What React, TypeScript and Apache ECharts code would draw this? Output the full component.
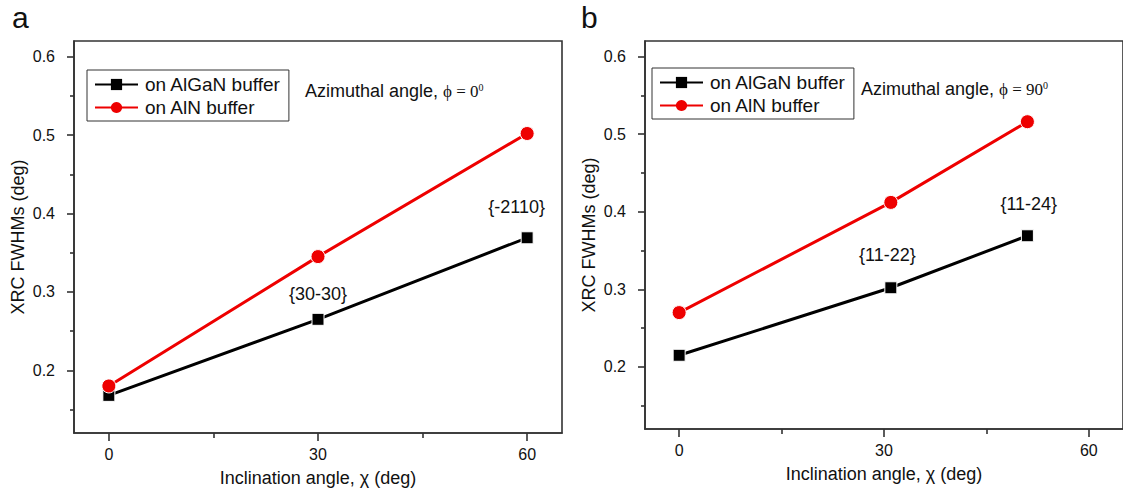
import React, { useEffect, useRef } from "react";
import * as echarts from "echarts";

// ---------- data ----------
const seriesNames = ["on AlGaN buffer", "on AlN buffer"];

const xTicks = [0, 30, 60];
const xMinorTicks = [15, 45];
const yTicks = [0.2, 0.3, 0.4, 0.5, 0.6];
const yMinorTicks = [0.15, 0.25, 0.35, 0.45, 0.55];

// panel a (phi = 0)
const chiA = [0, 30, 60];
const algaNA = [0.168, 0.265, 0.369];
const alnA = [0.18, 0.345, 0.502];
const planesA = ["{30-30}", "{-2110}"];

// panel b (phi = 90)
const chiB = [0, 31, 51];
const algaNB = [0.215, 0.302, 0.369];
const alnB = [0.27, 0.412, 0.516];
const planesB = ["{11-22}", "{11-24}"];

const panelLabels = ["a", "b"];
const phiValues = ["0", "90"];

// ---------- layout / style ----------
const planeAnchorsA = [
  [30, 0.297],
  [58.5, 0.408],
];
const planeAnchorsB = [
  [30.5, 0.344],
  [51.2, 0.41],
];

const SANS = '"Liberation Sans", Arial, Helvetica, sans-serif';
const SERIF = '"Liberation Serif", "Times New Roman", serif';
const AXIS = "#333";
const TEXT = "#111";
const RED = "#ee0000";
const BLACK = "#000";

const grids = [
  { left: 74, top: 41, width: 488, height: 392 },
  { left: 645, top: 41, width: 481, height: 388 },
];

function majorX(gridIndex: number) {
  return {
    type: "value",
    gridIndex,
    min: -5,
    max: 65,
    position: "bottom",
    axisLine: { show: true, onZero: false, lineStyle: { color: AXIS, width: 1.6 } },
    axisTick: {
      show: true,
      inside: false,
      length: 8,
      customValues: xTicks,
      lineStyle: { color: AXIS, width: 1.6 },
    },
    axisLabel: {
      show: true,
      customValues: xTicks,
      margin: 13,
      fontSize: 16,
      fontFamily: SANS,
      color: TEXT,
    },
    splitLine: { show: false },
    name: "Inclination angle, \u03c7 (deg)",
    nameLocation: "middle",
    nameGap: 36,
    nameTextStyle: { fontSize: 18, fontFamily: SANS, color: TEXT },
  };
}

function minorX(gridIndex: number) {
  return {
    type: "value",
    gridIndex,
    min: -5,
    max: 65,
    position: "bottom",
    axisLine: { show: false, onZero: false },
    axisTick: {
      show: true,
      inside: false,
      length: 5,
      customValues: xMinorTicks,
      lineStyle: { color: AXIS, width: 1.6 },
    },
    axisLabel: { show: false },
    splitLine: { show: false },
  };
}

function majorY(gridIndex: number) {
  return {
    type: "value",
    gridIndex,
    min: 0.12,
    max: 0.62,
    position: "left",
    axisLine: { show: true, onZero: false, lineStyle: { color: AXIS, width: 1.6 } },
    axisTick: {
      show: true,
      inside: false,
      length: 7,
      customValues: yTicks,
      lineStyle: { color: AXIS, width: 1.6 },
    },
    axisLabel: {
      show: true,
      customValues: yTicks,
      formatter: (v: number) => v.toFixed(1),
      margin: 19,
      fontSize: 16,
      fontFamily: SANS,
      color: TEXT,
    },
    splitLine: { show: false },
    name: "XRC FWHMs (deg)",
    nameLocation: "middle",
    nameRotate: 90,
    nameGap: 47,
    nameTextStyle: { fontSize: 18, fontFamily: SANS, color: TEXT },
  };
}

function minorY(gridIndex: number) {
  return {
    type: "value",
    gridIndex,
    min: 0.12,
    max: 0.62,
    position: "left",
    axisLine: { show: false, onZero: false },
    axisTick: {
      show: true,
      inside: false,
      length: 4,
      customValues: yMinorTicks,
      lineStyle: { color: AXIS, width: 1.6 },
    },
    axisLabel: { show: false },
    splitLine: { show: false },
  };
}

function lineSeries(
  name: string,
  axisIndex: number,
  xs: number[],
  ys: number[],
  isRed: boolean
) {
  const color = isRed ? RED : BLACK;
  return {
    type: "line",
    name,
    xAxisIndex: axisIndex,
    yAxisIndex: axisIndex,
    data: xs.map((x, i) => [x, ys[i]]),
    symbol: isRed ? "circle" : "rect",
    symbolSize: isRed ? 14 : 12,
    showSymbol: true,
    lineStyle: { color, width: 3 },
    itemStyle: { color, borderColor: "#fff", borderWidth: 1 },
    z: isRed ? 4 : 3,
  };
}

function planeSeries(axisIndex: number, labels: string[], anchors: number[][]) {
  return {
    type: "scatter",
    xAxisIndex: axisIndex,
    yAxisIndex: axisIndex,
    silent: true,
    symbolSize: 1,
    itemStyle: { color: "rgba(0,0,0,0)" },
    data: labels.map((t, i) => ({ name: t, value: anchors[i] })),
    label: {
      show: true,
      position: "inside",
      formatter: (p: any) => p.name,
      fontSize: 18,
      fontFamily: SANS,
      color: TEXT,
      opacity: 1,
      textBorderWidth: 0,
    },
    z: 5,
  };
}

function legend(left: number, top: number) {
  return {
    left,
    top,
    orient: "vertical",
    data: seriesNames,
    itemWidth: 43,
    itemHeight: 14,
    itemGap: 4,
    padding: [5, 8, 4, 7],
    borderColor: AXIS,
    borderWidth: 1,
    backgroundColor: "#fff",
    selectedMode: false,
    itemStyle: { borderWidth: 0 },
    textStyle: { fontSize: 19, fontFamily: SANS, color: TEXT, padding: [0, 0, 0, 2] },
  };
}

function azimuthText(x: number, y: number, phi: string) {
  return {
    type: "text",
    x,
    y,
    style: {
      text: "{t|Azimuthal angle, }{p|\u03d5 = " + phi + "}{s|0}",
      verticalAlign: "middle",
      align: "left",
      rich: {
        t: { font: `18px ${SANS}`, fill: TEXT },
        p: { font: `17px ${SERIF}`, fill: TEXT },
        s: { font: `10px ${SERIF}`, fill: TEXT, verticalAlign: "top" },
      },
    },
  };
}

function panelLabel(x: number, text: string) {
  return {
    type: "text",
    x,
    y: 17,
    style: {
      text,
      font: `30px ${SANS}`,
      fill: "#111",
      align: "left",
      verticalAlign: "middle",
    },
  };
}

export default function App() {
  const ref = useRef<HTMLDivElement>(null);

  useEffect(() => {
    document.body.style.margin = "0";
    if (!ref.current) return;
    const chart = echarts.init(ref.current, null, { renderer: "svg" });
    const option: any = {
      animation: false,
      backgroundColor: "#fff",
      grid: grids.map((g) => ({
        ...g,
        show: true,
        borderColor: AXIS,
        borderWidth: 1.6,
        backgroundColor: "transparent",
        containLabel: false,
      })),
      xAxis: [majorX(0), minorX(0), majorX(1), minorX(1)],
      yAxis: [majorY(0), minorY(0), majorY(1), minorY(1)],
      legend: [legend(87, 70), legend(652, 68)],
      series: [
        lineSeries(seriesNames[0], 0, chiA, algaNA, false),
        lineSeries(seriesNames[1], 0, chiA, alnA, true),
        lineSeries(seriesNames[0], 2, chiB, algaNB, false),
        lineSeries(seriesNames[1], 2, chiB, alnB, true),
        planeSeries(0, planesA, planeAnchorsA),
        planeSeries(2, planesB, planeAnchorsB),
      ],
      graphic: [
        panelLabel(12, panelLabels[0]),
        panelLabel(581, panelLabels[1]),
        azimuthText(305, 91, phiValues[0]),
        azimuthText(861, 89, phiValues[1]),
      ],
    };
    chart.setOption(option);
    return () => chart.dispose();
  }, []);

  return <div ref={ref} style={{ width: 1123, height: 493 }} />;
}
